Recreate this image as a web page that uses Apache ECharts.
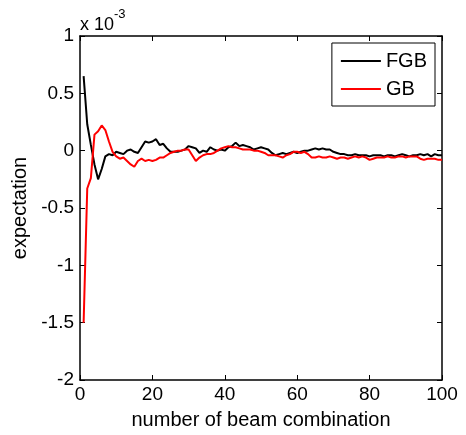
<!DOCTYPE html>
<html>
<head>
<meta charset="utf-8">
<script src="https://cdn.jsdelivr.net/npm/echarts@6/dist/echarts.min.js"></script>
<style>html,body{margin:0;padding:0;background:#fff;}#c{width:466px;height:435px;}</style>
</head>
<body>
<div id="c"></div>
<script>
// values in units of 1e-3
var xs = [];
for (var i = 1; i <= 100; i++) xs.push(i);
var fgb = [0.65,0.23,0.05,-0.12,-0.25,-0.16,-0.05,-0.03,-0.04,-0.01,
-0.02,-0.03,0.00,0.01,-0.01,-0.02,0.03,0.08,0.07,0.08,
0.10,0.05,0.06,0.02,-0.01,-0.01,-0.01,0.00,0.01,0.04,
0.03,0.02,-0.02,0.00,-0.01,0.03,0.01,0.00,0.01,0.00,
0.03,0.04,0.07,0.04,0.05,0.04,0.03,0.01,0.02,0.03,
0.02,0.01,-0.02,-0.04,-0.03,-0.02,-0.03,-0.02,-0.01,-0.02,
-0.01,0.00,0.00,0.01,0.02,0.01,0.02,0.01,0.01,-0.01,
-0.02,-0.03,-0.03,-0.04,-0.04,-0.03,-0.04,-0.04,-0.04,-0.05,
-0.04,-0.04,-0.04,-0.05,-0.04,-0.04,-0.05,-0.04,-0.03,-0.04,
-0.05,-0.04,-0.04,-0.03,-0.04,-0.03,-0.05,-0.03,-0.04,-0.04];
var gb = [-1.5,-0.33,-0.24,0.14,0.17,0.22,0.18,0.08,-0.01,-0.05,
-0.07,-0.06,-0.09,-0.12,-0.14,-0.09,-0.07,-0.09,-0.08,-0.09,
-0.08,-0.06,-0.06,-0.04,-0.02,-0.01,0.00,0.00,0.01,0.01,
-0.04,-0.09,-0.06,-0.04,-0.03,-0.03,-0.02,0.00,0.02,0.03,
0.04,0.03,0.03,0.02,0.01,0.01,0.01,0.00,0.00,-0.01,
-0.02,-0.04,-0.04,-0.04,-0.05,-0.06,-0.04,-0.03,-0.01,-0.01,
-0.02,-0.01,-0.03,-0.06,-0.06,-0.05,-0.06,-0.06,-0.05,-0.06,
-0.07,-0.06,-0.06,-0.07,-0.06,-0.05,-0.06,-0.05,-0.06,-0.08,
-0.07,-0.06,-0.06,-0.06,-0.05,-0.06,-0.06,-0.05,-0.05,-0.06,
-0.05,-0.05,-0.05,-0.07,-0.08,-0.07,-0.07,-0.07,-0.08,-0.08];
var seriesNames = ['FGB', 'GB'];
var xTitle = 'number of beam combination';
var yTitle = 'expectation';

var font = 'Liberation Sans, Arial, sans-serif';
var chart = echarts.init(document.getElementById('c'), null, {renderer: 'canvas'});
function pairs(v){ return v.map(function(y,i){ return [xs[i], y]; }); }
var axisLineStyle = {color: '#000', width: 1.5};
chart.setOption({
  animation: false,
  backgroundColor: '#fff',
  grid: {left: 80, right: 24, top: 36, bottom: 51, containLabel: false},
  legend: {
    data: seriesNames, orient: 'vertical', right: 31, top: 43,
    icon: 'rect', itemWidth: 40, itemHeight: 2, itemGap: 8,
    padding: [8, 8, 7, 9],
    borderColor: '#000', borderWidth: 1, backgroundColor: '#fff',
    textStyle: {fontFamily: font, fontSize: 20, color: '#000'}
  },
  xAxis: [{
    type: 'value', min: 0, max: 100, interval: 20, position: 'bottom',
    name: xTitle, nameLocation: 'middle', nameGap: 30,
    nameTextStyle: {fontFamily: font, fontSize: 20, color: '#000'},
    axisLine: {show: true, onZero: false, lineStyle: axisLineStyle},
    axisTick: {inside: true, length: 5, lineStyle: {color: '#000'}},
    axisLabel: {fontFamily: font, fontSize: 19, color: '#000', margin: 5},
    splitLine: {show: false}
  }, {
    type: 'value', min: 0, max: 100, interval: 20, position: 'top',
    axisLine: {show: true, onZero: false, lineStyle: axisLineStyle},
    axisTick: {inside: true, length: 5, lineStyle: {color: '#000'}},
    axisLabel: {show: false}, splitLine: {show: false}
  }],
  yAxis: [{
    type: 'value', min: -2, max: 1, interval: 0.5, position: 'left',
    name: yTitle, nameLocation: 'middle', nameGap: 47,
    nameTextStyle: {fontFamily: font, fontSize: 20, color: '#000'},
    axisLine: {show: true, onZero: false, lineStyle: axisLineStyle},
    axisTick: {inside: true, length: 5, lineStyle: {color: '#000'}},
    axisLabel: {fontFamily: font, fontSize: 19, color: '#000', margin: 6},
    splitLine: {show: false}
  }, {
    type: 'value', min: -2, max: 1, interval: 0.5, position: 'right',
    axisLine: {show: true, onZero: false, lineStyle: axisLineStyle},
    axisTick: {inside: true, length: 5, lineStyle: {color: '#000'}},
    axisLabel: {show: false}, splitLine: {show: false}
  }],
  graphic: [{
    type: 'text', left: 80, top: 8,
    style: {
      text: '{a|x 10}{b|-3}', fontFamily: font,
      rich: {
        a: {fontFamily: font, fontSize: 18, fill: '#000', color: '#000', padding: [8, 0, 0, 0]},
        b: {fontFamily: font, fontSize: 13, fill: '#000', color: '#000', verticalAlign: 'top'}
      }
    }
  }],
  series: [{
    name: seriesNames[0], type: 'line', data: pairs(fgb), showSymbol: false, symbol: 'none',
    itemStyle: {color: '#000'}, lineStyle: {color: '#000', width: 2}
  }, {
    name: seriesNames[1], type: 'line', data: pairs(gb), showSymbol: false, symbol: 'none',
    itemStyle: {color: '#ff0000'}, lineStyle: {color: '#ff0000', width: 2}
  }]
});
</script>
</body>
</html>
